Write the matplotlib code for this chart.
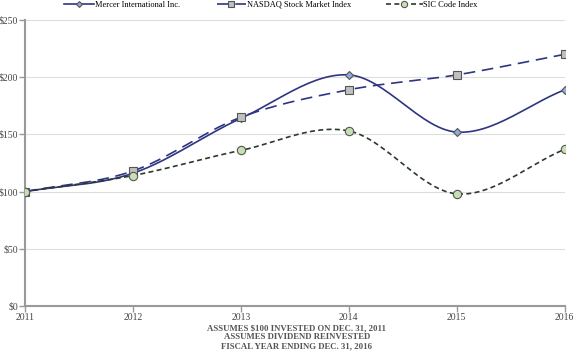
import numpy as np
import matplotlib
matplotlib.use("Agg")
import matplotlib.pyplot as plt
from matplotlib.lines import Line2D

# Datos
anios = [2011, 2012, 2013, 2014, 2015, 2016]
mercer = [100, 116, 164, 202, 152, 189]
nasdaq = [100, 118, 165, 189, 202, 220]
sic = [100, 114, 136, 153, 98, 137]
y_ticks = [0, 50, 100, 150, 200, 250]


def suavizar(x, y, n=30):
    # curva suave tipo Catmull-Rom entre los puntos
    x = np.asarray(x, float)
    y = np.asarray(y, float)
    px = np.concatenate([[2 * x[0] - x[1]], x, [2 * x[-1] - x[-2]]])
    py = np.concatenate([[2 * y[0] - y[1]], y, [2 * y[-1] - y[-2]]])
    xs, ys = [], []
    t = np.linspace(0, 1, n)
    for i in range(1, len(px) - 2):
        for p, out in ((px, xs), (py, ys)):
            p0, p1, p2, p3 = p[i - 1], p[i], p[i + 1], p[i + 2]
            out.extend(0.5 * ((2 * p1) + (-p0 + p2) * t
                              + (2 * p0 - 5 * p1 + 4 * p2 - p3) * t ** 2
                              + (-p0 + 3 * p1 - 3 * p2 + p3) * t ** 3))
    return np.array(xs), np.array(ys)


plt.rcParams["font.family"] = ["Liberation Serif", "DejaVu Serif"]

fig = plt.figure(figsize=(5.73, 3.57), dpi=100)
ax = fig.add_axes([0.0436, 0.143, 0.942, 0.801])

c_mercer = "#2E3582"
c_nasdaq = "#2E3582"
c_sic = "#2B3A2B"

series = [
    (mercer, c_mercer, "-", "D", "#8EA9DB", 4.5, "Mercer International Inc."),
    (nasdaq, c_nasdaq, (0, (7, 4)), "s", "#C0C0C0", 6, "NASDAQ Stock Market Index"),
    (sic, c_sic, (0, (3, 2)), "o", "#C6E0B4", 6, "SIC Code Index"),
]

# posicion de cada entrada de la leyenda (x en fraccion de figura, largo del trazo)
pos_leyenda = [(0.110, 3.6), (0.377, 3.5), (0.672, 4.4)]

for (vals, col, ls, mk, fill, ms, lab), (lx, hl) in zip(series, pos_leyenda):
    xs, ys = suavizar(anios, vals)
    ax.plot(xs, ys, color=col, linestyle=ls, linewidth=1.2, zorder=3)
    ax.plot(anios, vals, linestyle="none", marker=mk, markersize=ms,
            markerfacecolor=fill, markeredgecolor="#555555", markeredgewidth=0.8, zorder=4)
    h = Line2D([], [], color=col, linestyle=ls, linewidth=1.2, marker=mk,
               markersize=ms - 1.5, markerfacecolor=fill,
               markeredgecolor="#555555", markeredgewidth=0.8, label=lab)
    fig.legend(handles=[h], loc="upper left", bbox_to_anchor=(lx, 1.0), frameon=False,
               fontsize=6, handlelength=hl, handletextpad=0.1, borderpad=0.1,
               borderaxespad=0)

ax.set_xlim(2011, 2016)
ax.set_ylim(0, 250)
ax.set_xticks(anios)
ax.set_xticklabels([str(a) for a in anios])
ax.set_yticks(y_ticks)
ax.set_yticklabels(["$%d" % v for v in y_ticks])
ax.grid(axis="y", color="#DDDDDD", linewidth=0.8)
ax.set_axisbelow(True)

for s in ["top", "right"]:
    ax.spines[s].set_visible(False)
for s in ["left", "bottom"]:
    ax.spines[s].set_color("#999999")
    ax.spines[s].set_linewidth(1.5)
ax.tick_params(axis="both", colors="#999999", labelcolor="#444444", labelsize=7,
               length=4, width=1, pad=1)

fig.text(0.518, 0.090, "ASSUMES $100 INVESTED ON DEC. 31, 2011\nASSUMES DIVIDEND REINVESTED\n"
         "FISCAL YEAR ENDING DEC. 31, 2016", ha="center", va="top", fontsize=6.3,
         color="#555555", fontweight="semibold", linespacing=1.1)

fig.savefig("out.png", dpi=100)
